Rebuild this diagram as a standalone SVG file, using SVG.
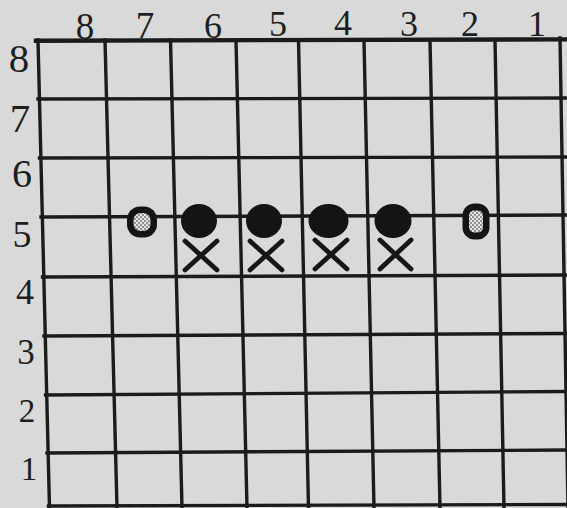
<svg xmlns="http://www.w3.org/2000/svg" width="567" height="508" viewBox="0 0 567 508">
  <defs>
    <style>
      .ln { stroke: #1b1b1b; stroke-width: 3.4; fill: none; stroke-linecap: square; }
      .top { stroke-width: 4.4; }
      .lbl { font-family: "Liberation Serif", "Times New Roman", serif; fill: #1e1e1e; text-anchor: middle; }
      .stone { fill: #141414; }
      .cross { stroke: #161616; stroke-width: 4.8; stroke-linecap: round; fill: none; }
      .shell { fill: #141414; }
    </style>
    <pattern id="dots" width="4" height="4" patternUnits="userSpaceOnUse">
      <rect width="4" height="4" fill="#e4e4e4"/>
      <circle cx="1" cy="1" r="0.9" fill="#6a6a6a"/>
      <circle cx="3" cy="3" r="0.9" fill="#6a6a6a"/>
    </pattern>
  </defs>
  <rect width="567" height="508" fill="#d9d9d9"/>

  <g id="grid">
    <line class="ln top" x1="36" y1="40.7" x2="567" y2="39.4"/>
    <line class="ln" x1="38" y1="99" x2="567" y2="98"/>
    <line class="ln" x1="39.5" y1="158" x2="567" y2="157"/>
    <line class="ln" x1="41" y1="217" x2="567" y2="215"/>
    <line class="ln" x1="42.5" y1="277" x2="567" y2="275"/>
    <line class="ln" x1="44" y1="336" x2="567" y2="333.5"/>
    <line class="ln" x1="45.5" y1="395" x2="567" y2="391.5"/>
    <line class="ln" x1="47" y1="453" x2="567" y2="450"/>
    <line class="ln" x1="48.5" y1="506" x2="567" y2="504.5"/>

    <line class="ln" x1="38" y1="40" x2="49.5" y2="508"/>
    <line class="ln" x1="105" y1="40" x2="117" y2="508"/>
    <line class="ln" x1="170.5" y1="40" x2="182" y2="508"/>
    <line class="ln" x1="236" y1="40" x2="247" y2="508"/>
    <line class="ln" x1="298.5" y1="40" x2="308.5" y2="508"/>
    <line class="ln" x1="364" y1="40" x2="374" y2="508"/>
    <line class="ln" x1="430" y1="40" x2="440" y2="508"/>
    <line class="ln" x1="495" y1="40" x2="504" y2="508"/>
    <line class="ln" x1="560" y1="38" x2="568" y2="508"/>
  </g>

  <g id="col-labels">
    <text class="lbl" x="85" y="38.5" font-size="37">8</text>
    <text class="lbl" x="145" y="37.5" font-size="37">7</text>
    <text class="lbl" x="213" y="37.5" font-size="36">6</text>
    <text class="lbl" x="278" y="36" font-size="36">5</text>
    <text class="lbl" x="343" y="34.5" font-size="36">4</text>
    <text class="lbl" x="409" y="35.5" font-size="36">3</text>
    <text class="lbl" x="470" y="36" font-size="36">2</text>
    <text class="lbl" x="537" y="35.5" font-size="36">1</text>
  </g>

  <g id="row-labels">
    <text class="lbl" x="19" y="72" font-size="41">8</text>
    <text class="lbl" x="20" y="132" font-size="41">7</text>
    <text class="lbl" x="22" y="187" font-size="40">6</text>
    <text class="lbl" x="22" y="247" font-size="38">5</text>
    <text class="lbl" x="25" y="303.5" font-size="36">4</text>
    <text class="lbl" x="26" y="364" font-size="35">3</text>
    <text class="lbl" x="27" y="421.5" font-size="33">2</text>
    <text class="lbl" x="29" y="480" font-size="33">1</text>
  </g>

  <g id="shaded-7-5">
    <rect class="shell" x="127" y="206.5" width="30" height="31" rx="13"/>
    <rect x="133.5" y="213" width="17" height="18" rx="7" fill="url(#dots)"/>
  </g>
  <g id="shaded-2-5">
    <rect class="shell" x="462.5" y="203.5" width="27" height="36" rx="12"/>
    <rect x="469" y="210.5" width="14" height="22" rx="5" fill="url(#dots)"/>
  </g>

  <g id="black-6-5"><ellipse class="stone" cx="199" cy="221" rx="18" ry="17"/></g>
  <g id="black-5-5"><ellipse class="stone" cx="264" cy="221" rx="18" ry="17"/></g>
  <g id="black-4-5"><ellipse class="stone" cx="328.5" cy="221" rx="20" ry="17"/></g>
  <g id="black-3-5"><ellipse class="stone" cx="393" cy="221" rx="18.5" ry="17"/></g>

  <g id="cross-6"><path class="cross" d="M185 241 L217 270 M217 241 L185 270"/></g>
  <g id="cross-5"><path class="cross" d="M250 241 L282 270 M282 241 L250 270"/></g>
  <g id="cross-4"><path class="cross" d="M315 240 L347 269 M347 240 L315 269"/></g>
  <g id="cross-3"><path class="cross" d="M380 240 L411 269 M411 240 L380 269"/></g>
</svg>
